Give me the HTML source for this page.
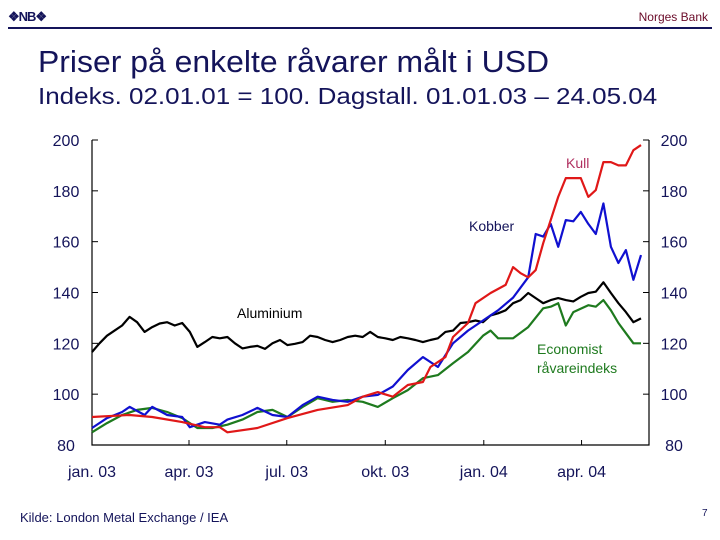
<!DOCTYPE html>
<html><head><meta charset="utf-8"><style>
body{margin:0;width:720px;height:540px;background:#fff;overflow:hidden;font-family:"Liberation Sans",sans-serif;position:relative}
.t{position:absolute;white-space:nowrap;color:#14145a}
</style></head><body>
<div class="t" style="left:8px;top:9px;font-size:13px;font-weight:bold;color:#14145a;letter-spacing:-1px">❖NB❖</div>
<div class="t" style="right:12px;top:10px;font-size:12px;color:#6a0a28">Norges Bank</div>
<div style="position:absolute;left:8px;top:27px;width:704px;height:2px;background:#14145a"></div>
<div class="t" style="left:38px;top:44px;font-size:31px;transform:scaleX(1.03);transform-origin:0 0">Priser på enkelte råvarer målt i USD</div>
<div class="t" style="left:38px;top:83px;font-size:23px;transform:scaleX(1.13);transform-origin:0 0">Indeks. 02.01.01 = 100. Dagstall. 01.01.03 – 24.05.04</div>
<div class="t" style="left:20px;top:510px;font-size:13px">Kilde: London Metal Exchange / IEA</div>
<div class="t" style="left:702px;top:508px;font-size:10px">7</div>
<svg id="c" width="720" height="540" style="position:absolute;left:0;top:0"></svg>
<script>
const yTicks=[80,100,120,140,160,180,200];
const xTickLabels=["jan. 03","apr. 03","jul. 03","okt. 03","jan. 04","apr. 04"];
const xTickWeeks=[0,12.9,25.9,39.0,52.1,65.1];
const kobberW=[0,2,4,5,7,8,10,12,13,15,17,18,20,22,24,26,28,30,32,34,36,38,40,42,44,46,48,50,52,54,56,58,59,60,61,62,63,64,65,66,67,68,69,70,71,72,73];
const kobber=[86.7,90.6,93,95,91.8,95,91.8,91,87,89,88,90,91.8,94.6,91.8,91,95.7,99,97.7,97,99,99.7,103,109.5,114.6,110.7,120,125,129,133,138,146,163,162,167,158,168.5,168,171.7,167,163,175,158,151.6,156.7,145,154.7];
const kullW=[0,5,8,12,15,17,18,22,26,30,34,36,38,40,42,44,45,47,48,50,51,53,55,56,57,58,59,60,61,62,63,65,66,67,68,69,70,71,72,73];
const kull=[91,91.8,91,89,87,87,85,86.7,90.6,93.8,95.7,99,100.8,99,103.6,104.8,110.7,114.6,122.5,128,135.8,139.8,143,150,147.6,146,148.8,159.4,168.5,177.6,185,185,177.6,180.3,191.3,191.3,190,190,196,198];
const aluW=[];for(let i=0;i<=73;i++)aluW.push(i);
const alu=[116.6,120,123,125,127,130.4,128.3,124.5,126.4,127.8,128.3,127,128,124.5,118.6,120.5,122.5,122,122.5,120,118,118.6,119,117.8,120,121.3,119.3,119.8,120.5,123,122.5,121.3,120.5,121.3,122.5,123,122.5,124.5,122.5,122,121.3,122.5,122,121.3,120.5,121.3,122,124.5,125,128,128.3,129,128.3,131,131.8,133,135.8,137,139.8,137.8,135.8,137,137.8,137,136.5,138.3,139.8,140.3,144,139.8,135.8,132.3,128.3,129.8];
const econW=[0,2,4,6,8,10,12,14,16,18,20,22,24,26,28,30,32,34,36,38,40,42,44,46,48,50,52,53,54,56,58,60,61,62,63,64,66,67,68,69,70,71,72,73];
const econ=[85,88.6,91.8,93.8,94.6,93,90.6,86.7,86.7,88,90,93,93.8,91,95,98.4,97,97.7,97,95,98.4,101.6,106.3,107.5,112.2,116.6,123,125,122,122,126.4,133.8,134.4,135.8,127,132.3,135,134.4,137,133,128,124,120,120];
const X0=92,X1=649,Y0=445,Y1=140;
const xs=w=>X0+w*7.52;
const ys=v=>Y0-(v-80)/120*(Y0-Y1);
const svg=document.getElementById('c');const NS='http://www.w3.org/2000/svg';
function mk(t,a,p){const e=document.createElementNS(NS,t);for(const k in a)e.setAttribute(k,a[k]);(p||svg).appendChild(e);return e;}
let ax=mk('path',{d:`M${X0},${Y1}V${Y0}H${X1}V${Y1}`,fill:'none',stroke:'#000','stroke-width':1.2});


yTicks.forEach(v=>{
 const y=ys(v);
 mk('line',{x1:X0,x2:X0+6,y1:y,y2:y,stroke:'#000'});mk('line',{x1:X1-6,x2:X1,y1:y,y2:y,stroke:'#000'});
 let l=mk('text',{x:66,y:y+6,'text-anchor':'middle','font-size':16,fill:'#14145a','font-family':'Liberation Sans'});l.textContent=v;
 
 
 let r=mk('text',{x:674,y:y+6,'text-anchor':'middle','font-size':16,fill:'#14145a','font-family':'Liberation Sans'});r.textContent=v;
 
 
});
xTickWeeks.forEach((w,i)=>{
 const x=xs(w);mk('line',{x1:x,x2:x,y1:Y0,y2:Y0-5,stroke:'#000'});
 let t=mk('text',{x:x,y:477,'text-anchor':'middle','font-size':16,fill:'#14145a','font-family':'Liberation Sans'});t.textContent=xTickLabels[i];
 
 
});
function line(W,V,col,name){
 const d=W.map((w,i)=>(i?'L':'M')+xs(w).toFixed(1)+','+ys(V[i]).toFixed(1)).join('');
 const p=mk('path',{d:d,fill:'none',stroke:col,'stroke-width':2.2,'stroke-linejoin':'round'});
 
 
}
line(aluW,alu,'#000','line-aluminium');
line(econW,econ,'#1e7a1e','line-economist');
line(kobberW,kobber,'#1010d0','line-kobber');
line(kullW,kull,'#e01818','line-kull');
function lab(x,y,txt,col,name){const t=mk('text',{x:x,y:y,'font-size':14,fill:col,'font-family':'Liberation Sans'});t.textContent=txt;
 
 }
lab(566,168,'Kull','#b03060','label-kull');
lab(469,231,'Kobber','#14145a','label-kobber');
lab(237,318,'Aluminium','#000','label-aluminium');
lab(537,354,'Economist','#1e7a1e','label-economist');
lab(537,373,'råvareindeks','#1e7a1e','label-economist-2');
</script>
</body></html>
